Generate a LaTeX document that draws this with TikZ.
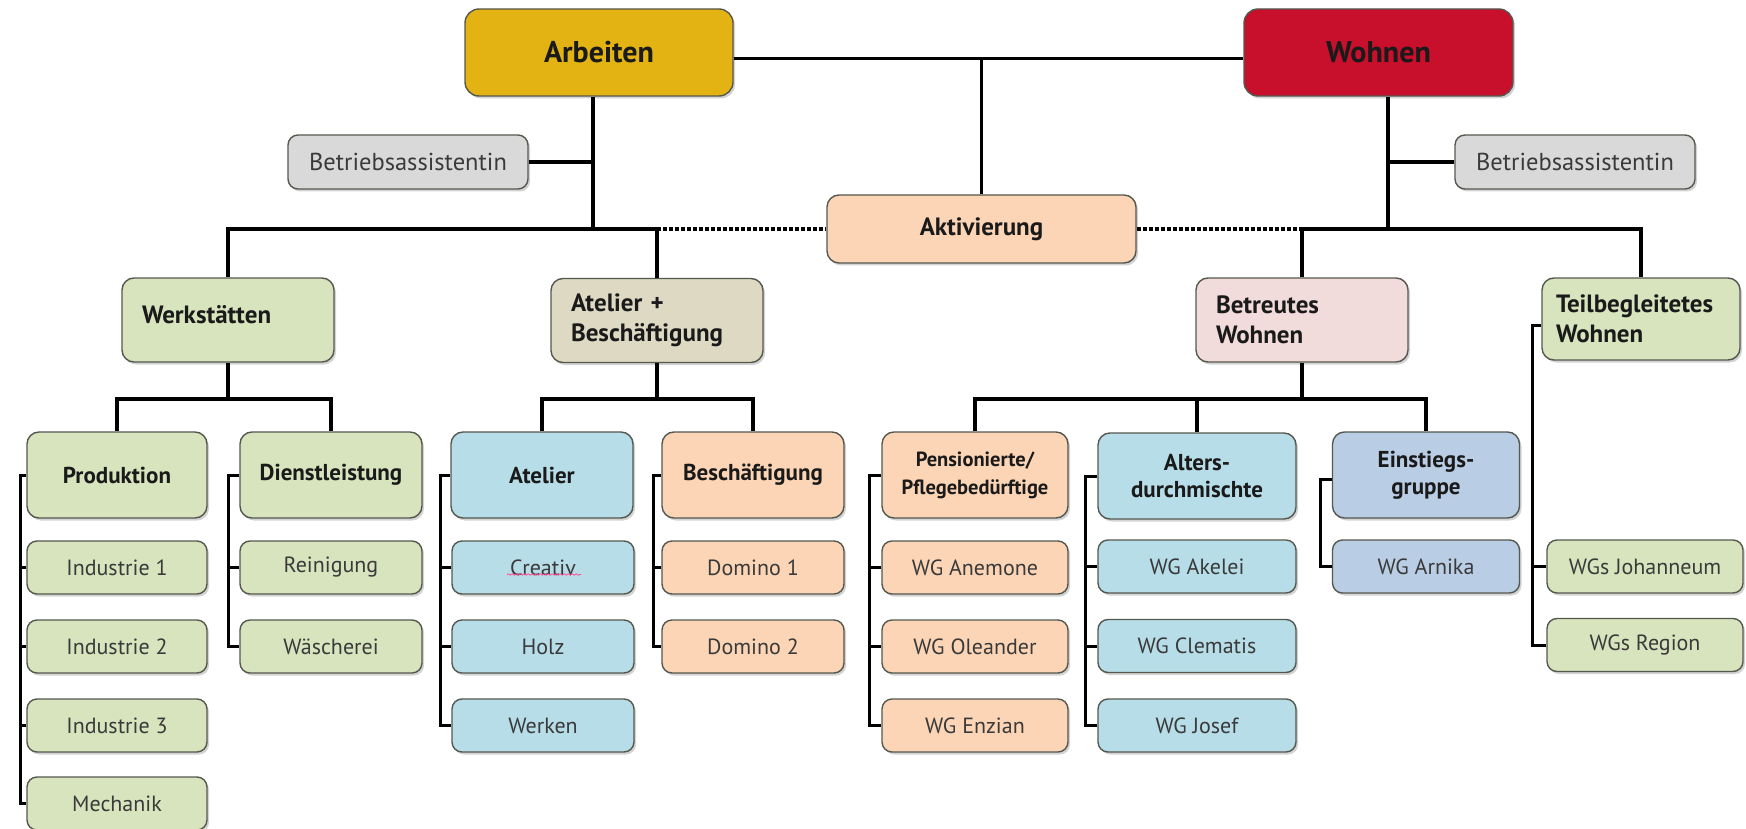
\documentclass[tikz,border=0pt]{standalone}
\usepackage{fontspec}
\setmainfont{PT Sans}
\usetikzlibrary{shadows,decorations.pathmorphing}
\definecolor{arbC}{HTML}{E2B312}
\definecolor{wohC}{HTML}{C80F2B}
\definecolor{grayC}{HTML}{D9D9D9}
\definecolor{peachC}{HTML}{FBD5B5}
\definecolor{greenC}{HTML}{D7E4BD}
\definecolor{tanC}{HTML}{DDD9C3}
\definecolor{blueC}{HTML}{B7DDE8}
\definecolor{einC}{HTML}{B9CDE5}
\definecolor{pinkC}{HTML}{F2DCDB}
\definecolor{bordC}{HTML}{55584F}
\definecolor{darkT}{HTML}{1A1A1A}
\definecolor{midT}{HTML}{3A3A3A}
\tikzset{
  box/.style={draw=bordC, line width=1.4pt, rounded corners=10pt, inner sep=0pt,
    drop shadow={shadow xshift=2pt, shadow yshift=-2.5pt, opacity=0.35}},
  topbox/.style={box, rounded corners=14pt, minimum width=268pt, minimum height=87pt,
    font=\fontsize{30}{34}\selectfont\bfseries, text=darkT},
  assist/.style={box, fill=grayC, minimum width=240pt, minimum height=54pt,
    font=\fontsize{24.5}{28}\selectfont, text=midT},
  lvlone/.style={box, rounded corners=12pt, minimum height=84pt, align=left,
    font=\fontsize{25}{30}\selectfont\bfseries, text=darkT},
  head/.style={box, rounded corners=12pt, minimum width=182pt, minimum height=86pt, align=center,
    font=\fontsize{23}{27}\selectfont\bfseries, text=darkT},
  leaf/.style={box, minimum width=182pt, minimum height=53pt,
    font=\fontsize{22}{26}\selectfont, text=midT},
  conn/.style={line width=3.6pt, line join=miter},
  brk/.style={line width=3pt, line join=miter},
  dots/.style={line width=4.5pt, dash pattern=on 4pt off 2pt}
}
\begin{document}
\begin{tikzpicture}[x=1pt,y=-1pt]
\useasboundingbox (0,0) rectangle (1746,829);
% top level
\node[topbox, fill=arbC] (Arb) at (599,52.5) {Arbeiten};
\node[topbox, fill=wohC, minimum width=269pt] (Woh) at (1378.5,52.5) {Wohnen};
\node[assist] (BAL) at (408,162) {Betriebsassistentin};
\node[assist] (BAR) at (1575,162) {Betriebsassistentin};
\node[box, fill=peachC, minimum width=309pt, minimum height=68pt, rounded corners=12pt,
  font=\fontsize{25}{29}\selectfont\bfseries, text=darkT] (Akt) at (981.5,229) {Aktivierung};
% level 1
\node[lvlone, fill=greenC, text width=172pt, minimum width=212pt] (Werk) at (228,320) {\raisebox{11pt}{Werkstätten}};
\node[lvlone, fill=tanC, text width=172pt, minimum width=212pt] (AtB) at (657,320.5) {Atelier +\\Beschäftigung};
\node[lvlone, fill=pinkC, text width=172pt, minimum width=212pt] (BW) at (1302,320) {Betreutes\\Wohnen};
\node[lvlone, fill=greenC, text width=170pt, minimum width=198pt, minimum height=82pt] (TW) at (1641,319) {Teilbegleitetes\\Wohnen};
% level 2
\node[head, fill=greenC, minimum width=180pt] (Prod) at (117,475) {Produktion};
\node[head, fill=greenC] (Dienst) at (331,475) {Dienstleistung};
\node[head, fill=blueC] (Atel) at (542,475) {Atelier};
\node[head, fill=peachC] (Besch) at (753,475) {Beschäftigung};
\node[head, fill=peachC, minimum width=186pt, font=\fontsize{20.5}{28}\selectfont\bfseries] (Pens) at (975,475) {Pensionierte/\\Pflegebedürftige};
\node[head, fill=blueC, minimum width=198pt] (Alt) at (1197,476) {Alters-\\durchmischte};
\node[head, fill=einC, minimum width=187pt] (Ein) at (1426,475) {Einstiegs-\\gruppe};
% leaves
\node[leaf, fill=greenC, minimum width=180pt] (Ind1) at (117,567.5) {Industrie 1};
\node[leaf, fill=greenC, minimum width=180pt] (Ind2) at (117,646.5) {Industrie 2};
\node[leaf, fill=greenC, minimum width=180pt] (Ind3) at (117,725.5) {Industrie 3};
\node[leaf, fill=greenC, minimum width=180pt] (Mech) at (117,803.5) {Mechanik};
\node[leaf, fill=greenC] (Rein) at (331,567.5) {Reinigung};
\node[leaf, fill=greenC] (Wasch) at (331,646.5) {Wäscherei};
\node[leaf, fill=blueC] (Crea) at (543,567.5) {Creativ};
\node[leaf, fill=blueC] (Holz) at (543,646.5) {Holz};
\node[leaf, fill=blueC] (Werken) at (543,725.5) {Werken};
\node[leaf, fill=peachC] (Dom1) at (753,567.5) {Domino 1};
\node[leaf, fill=peachC] (Dom2) at (753,646.5) {Domino 2};
\node[leaf, fill=peachC, minimum width=186pt] (Anem) at (975,567.5) {WG Anemone};
\node[leaf, fill=peachC, minimum width=186pt] (Olea) at (975,646.5) {WG Oleander};
\node[leaf, fill=peachC, minimum width=186pt] (Enz) at (975,725.5) {WG Enzian};
\node[leaf, fill=blueC, minimum width=198pt] (Akel) at (1197,566.5) {WG Akelei};
\node[leaf, fill=blueC, minimum width=198pt] (Clem) at (1197,646) {WG Clematis};
\node[leaf, fill=blueC, minimum width=198pt] (Jos) at (1197,725.5) {WG Josef};
\node[leaf, fill=einC, minimum width=187pt] (Arn) at (1426,566.5) {WG Arnika};
\node[leaf, fill=greenC, minimum width=196pt] (Joh) at (1645,566.5) {WGs Johanneum};
\node[leaf, fill=greenC, minimum width=196pt] (Reg) at (1645,645) {WGs Region};
% spell-check underline
\draw[decorate, decoration={snake, amplitude=0.7pt, segment length=4pt}, color=red!60!magenta!70, line width=0.8pt]
  ([xshift=-36pt,yshift=-7pt]Crea.center) -- ([xshift=38pt,yshift=-7pt]Crea.center);
% junction coordinates
\coordinate (TL) at ([yshift=-6pt]Arb.east);
\coordinate (L1) at (593,229);
\coordinate (R1) at (1388,229);
\coordinate (L2) at (0,399);
\coordinate (bx1) at (20,0);
\coordinate (bx2) at (228,0);
\coordinate (bx3) at (440,0);
\coordinate (bx4) at (653,0);
\coordinate (bx5) at (869,0);
\coordinate (bx6) at (1085,0);
\coordinate (bx7) at (1320,0);
\coordinate (bx8) at (1532,0);
% top connectors
\draw[conn] (TL) -- (TL -| Woh.west);
\draw[conn] (Akt.north) -- (Akt.north |- TL);
\draw[conn] (Arb.south -| L1) -- (L1);
\draw[conn] (BAL.east) -- (BAL.east -| L1);
\draw[conn] (Woh.south -| R1) -- (R1);
\draw[conn] (BAR.west) -- (BAR.west -| R1);
\draw[conn] (Werk.north) |- (AtB.north |- L1) -- (AtB.north);
\draw[conn] (BW.north) |- (TW.north |- R1) -- (TW.north);
\draw[dots] (AtB.north |- L1) -- (Akt.west);
\draw[dots] (Akt.east) -- (BW.north |- R1);
% level 2 connectors
\draw[conn] (Werk.south) -- (Werk.south |- L2);
\draw[conn] (Prod.north) |- (Dienst.north |- L2) -- (Dienst.north);
\draw[conn] (AtB.south) -- (AtB.south |- L2);
\draw[conn] (Atel.north) |- (Besch.north |- L2) -- (Besch.north);
\draw[conn] (BW.south) -- (BW.south |- L2);
\draw[conn] (Pens.north) |- (Ein.north |- L2) -- (Ein.north);
\draw[conn] (Alt.north) -- (Alt.north |- L2);
% brackets
\draw[brk] (Prod.west) -- (Prod.west -| bx1) -- (Mech.west -| bx1) -- (Mech.west);
\draw[brk] (Ind1.west) -- (Ind1.west -| bx1);
\draw[brk] (Ind2.west) -- (Ind2.west -| bx1);
\draw[brk] (Ind3.west) -- (Ind3.west -| bx1);
\draw[brk] (Dienst.west) -- (Dienst.west -| bx2) -- (Wasch.west -| bx2) -- (Wasch.west);
\draw[brk] (Rein.west) -- (Rein.west -| bx2);
\draw[brk] (Atel.west) -- (Atel.west -| bx3) -- (Werken.west -| bx3) -- (Werken.west);
\draw[brk] (Crea.west) -- (Crea.west -| bx3);
\draw[brk] (Holz.west) -- (Holz.west -| bx3);
\draw[brk] (Besch.west) -- (Besch.west -| bx4) -- (Dom2.west -| bx4) -- (Dom2.west);
\draw[brk] (Dom1.west) -- (Dom1.west -| bx4);
\draw[brk] (Pens.west) -- (Pens.west -| bx5) -- (Enz.west -| bx5) -- (Enz.west);
\draw[brk] (Anem.west) -- (Anem.west -| bx5);
\draw[brk] (Olea.west) -- (Olea.west -| bx5);
\draw[brk] (Alt.west) -- (Alt.west -| bx6) -- (Jos.west -| bx6) -- (Jos.west);
\draw[brk] (Akel.west) -- (Akel.west -| bx6);
\draw[brk] (Clem.west) -- (Clem.west -| bx6);
\draw[brk] ([yshift=-4pt]Ein.west) -- ([yshift=-4pt]Ein.west -| bx7) -- (Arn.west -| bx7) -- (Arn.west);
\draw[brk] ([yshift=-6pt]TW.west) -- ([yshift=-6pt]TW.west -| bx8) -- (Reg.west -| bx8) -- (Reg.west);
\draw[brk] (Joh.west) -- (Joh.west -| bx8);
\end{tikzpicture}
\end{document}
